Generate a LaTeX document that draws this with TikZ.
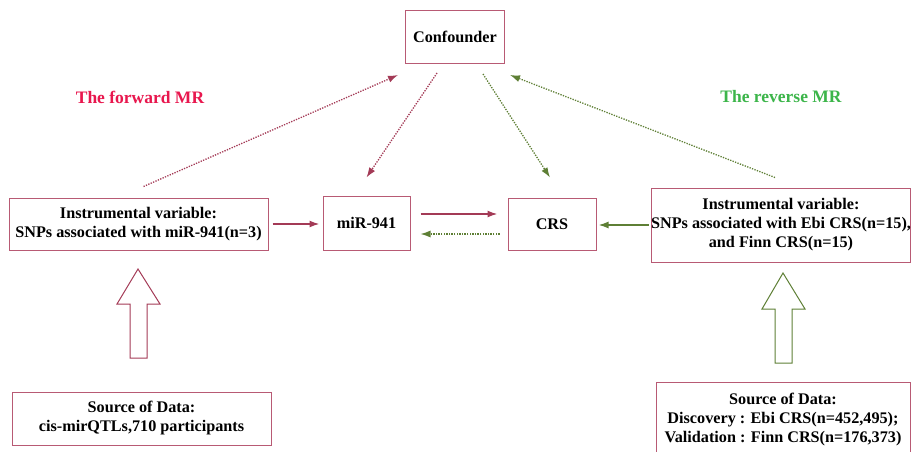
\documentclass[tikz,border=0pt]{standalone}
\usepackage{fontspec}
\setmainfont{Liberation Serif}
\usepackage{tikz}
\usetikzlibrary{arrows.meta}
\definecolor{rahmen}{HTML}{B85A74}
\definecolor{weinrot}{HTML}{A33A56}
\definecolor{oliv}{HTML}{5E7F35}
\definecolor{hellrot}{HTML}{E8174E}
\definecolor{hellgruen}{HTML}{3CB54A}
\tikzset{
  Kasten/.style={draw=rahmen, line width=1pt, align=center, inner sep=0pt,
    font=\fontsize{16.2}{19}\selectfont\bfseries}, % für Kästen
  Pfeil/.style={line width=1.6pt,-{Latex[length=10pt,width=7pt]}}, % für Pfeile
  RPfeil/.style={weinrot,Pfeil}, % rote Pfeile
  GPfeil/.style={oliv,Pfeil}, % grüne Pfeile
  Punkt/.style={line width=1.3pt, dash pattern=on 1.3pt off 1.3pt} % gepunktet
}
\begin{document}
\begin{tikzpicture}[x=1pt,y=-1pt]
\useasboundingbox (0,0) rectangle (911,452);

%Kästen
\node[Kasten, minimum width=99pt, minimum height=53pt] (conf) at (455,37) {Confounder};
\node[Kasten, minimum width=259pt, minimum height=52pt] (ivl) at (138.5,224)
  {Instrumental variable:\\SNPs associated with miR-941(n=3)};
\node[Kasten, minimum width=87pt, minimum height=54pt] (mir) at (366.5,223) {miR-941};
\node[Kasten, minimum width=88pt, minimum height=52pt] (crs) at (552,224) {CRS};
\node[Kasten, minimum width=258pt, minimum height=74pt] (ivr) at (781,225)
  {Instrumental variable:\\SNPs associated with Ebi CRS(n=15),\\and Finn CRS(n=15)};
\node[Kasten, minimum width=259pt, minimum height=53pt] (srcl) at (141.5,418.5)
  {Source of Data:\\cis-mirQTLs,710 participants};
\node[Kasten, minimum width=254pt, minimum height=76pt] (srcr) at (783,420)
  {Source of Data:\\Discovery : Ebi CRS(n=452,495);\\Validation : Finn CRS(n=176,373)};

%Überschriften
\node[text=hellrot, font=\fontsize{17.5}{20}\selectfont\bfseries] (fwd) at (140,97) {The forward MR};
\node[text=hellgruen, font=\fontsize{17.5}{20}\selectfont\bfseries] (rev) at (781,97) {The reverse MR};

%Hohlpfeile
\draw[weinrot, line width=1pt] (138,269) -- (160,304) -- (147,304) -- (147,358)
  -- (130,358) -- (130,304) -- (117,304) -- cycle;
\draw[oliv, line width=1pt] (783,273) -- (805,309) -- (792,309) -- (792,363)
  -- (775,363) -- (775,309) -- (762,309) -- cycle;

%gepunktete Pfeile
\draw[RPfeil, Punkt] ([xshift=5pt,yshift=11pt]ivl.north) -- ([xshift=-7pt,yshift=-11pt]conf.south west);
\draw[RPfeil, Punkt] ([xshift=-18pt,yshift=-9pt]conf.south) -- ([yshift=18pt]mir.north);
\draw[GPfeil, Punkt] ([xshift=28pt,yshift=-10pt]conf.south) -- ([xshift=-2pt,yshift=20pt]crs.north);
\draw[GPfeil, Punkt] ([xshift=-6pt,yshift=10pt]ivr.north) -- ([xshift=5pt,yshift=-11pt]conf.south east);
\draw[GPfeil, Punkt, shorten <=8pt, shorten >=10pt] ([yshift=-10pt]crs.west) -- ([yshift=-10pt]crs.west -| mir.east);

%durchgezogene Pfeile
\draw[RPfeil, shorten <=4pt, shorten >=3pt] (ivl.east) -- (ivl.east -| mir.west);
\draw[RPfeil, shorten <=10pt, shorten >=10pt] ([yshift=9pt]mir.east) -- ([yshift=9pt]mir.east -| crs.west);
\draw[GPfeil, shorten <=2pt, shorten >=2pt] (ivr.west) -- (ivr.west -| crs.east);

\end{tikzpicture}
\end{document}
